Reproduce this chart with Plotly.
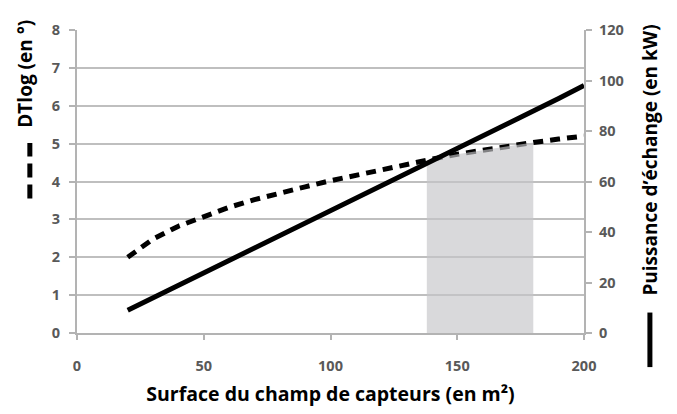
import plotly.graph_objects as go

# Data
surface = [20, 30, 40, 50, 60, 70, 80, 90, 100, 110, 120, 130, 140, 150, 160, 170, 180, 190, 200]
dtlog = [2.0, 2.48, 2.82, 3.08, 3.32, 3.52, 3.70, 3.86, 4.02, 4.17, 4.32, 4.46, 4.59, 4.72, 4.83, 4.93, 5.03, 5.12, 5.2]
puissance = [9.0, 13.9, 18.8, 23.8, 28.7, 33.6, 38.6, 43.5, 48.4, 53.4, 58.3, 63.2, 68.2, 73.1, 78.0, 83.0, 87.9, 92.9, 98.0]

zone_x = [138, 140, 150, 160, 170, 180]
zone_top = [4.55, 4.59, 4.72, 4.83, 4.93, 5.03]

x_ticks = [0, 50, 100, 150, 200]
left_ticks = [0, 1, 2, 3, 4, 5, 6, 7, 8]
right_ticks = [0, 20, 40, 60, 80, 100, 120]

FONT = "Open Sans"
TICKCOL = "#595959"
AXCOL = "#b3b3b3"
TITLE_SIZE = 19
TICK_SIZE = 14.5

fig = go.Figure()

fig.add_trace(go.Scatter(
    x=surface, y=dtlog, mode="lines",
    line=dict(color="black", width=5, dash="10px,7px"),
    showlegend=False, hoverinfo="skip"))

fig.add_trace(go.Scatter(
    x=zone_x + zone_x[::-1], y=zone_top + [0] * len(zone_x), mode="lines",
    fill="toself", fillcolor="rgba(197,197,200,0.65)",
    line=dict(width=0), showlegend=False, hoverinfo="skip"))

fig.add_trace(go.Scatter(
    x=surface, y=puissance, mode="lines", yaxis="y2",
    line=dict(color="black", width=5),
    showlegend=False, hoverinfo="skip"))

fig.update_layout(
    width=669, height=406,
    margin=dict(l=69, r=93, t=14, b=81),
    paper_bgcolor="white", plot_bgcolor="white",
    font=dict(family=FONT, color=TICKCOL),
    xaxis=dict(
        range=[0, 200], tickvals=x_ticks, showgrid=False, zeroline=False,
        showline=True, linecolor=AXCOL, linewidth=2,
        ticks="outside", ticklen=5, tickcolor=AXCOL, tickwidth=2,
        ticklabelstandoff=14,
        tickfont=dict(family=FONT, size=TICK_SIZE, color=TICKCOL, weight="bold"),
        title=dict(text="Surface du champ de capteurs (en m²)",
                   font=dict(family=FONT, size=19.5, color="black", weight="bold"),
                   standoff=13),
    ),
    yaxis=dict(
        range=[0, 8], tickvals=left_ticks, showgrid=True, gridcolor="#bfbfbf", gridwidth=2,
        zeroline=False, showline=True, linecolor=AXCOL, linewidth=2,
        ticks="outside", ticklen=6, tickcolor=AXCOL, tickwidth=2,
        ticklabelstandoff=6,
        tickfont=dict(family=FONT, size=TICK_SIZE, color=TICKCOL, weight="bold"),
    ),
    yaxis2=dict(
        range=[0, 120], tickvals=right_ticks, overlaying="y", side="right",
        showgrid=False, zeroline=False, showline=True, linecolor=AXCOL, linewidth=2,
        ticks="outside", ticklen=6, tickcolor=AXCOL, tickwidth=2,
        ticklabelstandoff=4,
        tickfont=dict(family=FONT, size=TICK_SIZE, color=TICKCOL, weight="bold"),
    ),
    annotations=[
        dict(text="DTlog (en °)", xref="paper", yref="paper", x=-0.103, y=0.855,
             textangle=-90, showarrow=False, xanchor="center", yanchor="middle",
             font=dict(family=FONT, size=TITLE_SIZE, color="black", weight="bold")),
        dict(text="Puissance d’échange (en kW)", xref="paper", yref="paper", x=1.13, y=0.572,
             textangle=-90, showarrow=False, xanchor="center", yanchor="middle",
             font=dict(family=FONT, size=TITLE_SIZE, color="black", weight="bold")),
    ],
    shapes=[
        dict(type="line", xref="paper", yref="paper", x0=-0.093, x1=-0.093, y0=0.444, y1=0.627,
             line=dict(color="black", width=5, dash="14px,7px")),
        dict(type="line", xref="paper", yref="paper", x0=1.13, x1=1.13, y0=-0.1125, y1=0.0675,
             line=dict(color="black", width=5)),
    ],
)

fig.write_html("out.html")
